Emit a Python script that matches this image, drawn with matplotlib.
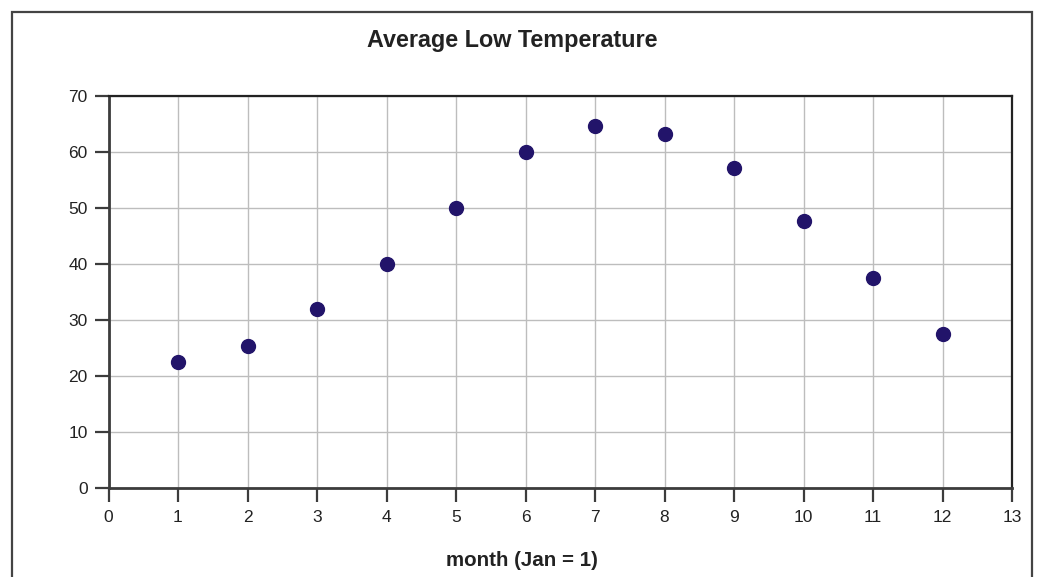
import matplotlib.pyplot as plt
from matplotlib.patches import Rectangle

plt.rcParams['font.family'] = ['Liberation Sans', 'DejaVu Sans']

months = [1, 2, 3, 4, 5, 6, 7, 8, 9, 10, 11, 12]
low_temps = [22.5, 25.3, 32.0, 40.0, 50.0, 60.0, 64.7, 63.3, 57.1, 47.6, 37.5, 27.5]
x_ticks = list(range(0, 14))
y_ticks = list(range(0, 80, 10))

W, H = 1044, 577
fig = plt.figure(figsize=(W / 100, H / 100), dpi=100)
ax = fig.add_axes([108.5 / W, 1 - 488 / H, (1012 - 108.5) / W, (488 - 96) / H])

ax.scatter(months, low_temps, s=100, color='#22146a', zorder=3, clip_on=False)

ax.set_xlim(0, 13)
ax.set_ylim(0, 70)
ax.set_xticks(x_ticks)
ax.set_yticks(y_ticks)
ax.grid(True, color='#bdbdbd', linewidth=1.0)
ax.set_axisbelow(True)

for side in ['left', 'bottom']:
    ax.spines[side].set_color('#3c3c3c')
    ax.spines[side].set_linewidth(2)
for side in ['top', 'right']:
    ax.spines[side].set_color('#222222')
    ax.spines[side].set_linewidth(1.6)

ax.tick_params(axis='both', direction='out', length=10, width=1.6,
               color='#3c3c3c', labelsize=12.5, labelcolor='#222222')
ax.tick_params(axis='x', pad=6)
ax.tick_params(axis='y', pad=5)

fig.text(512 / W, 1 - 40 / H, 'Average Low Temperature', ha='center', va='center',
         fontsize=16.8, fontweight='bold', color='#222222')
fig.text(522 / W, 1 - 560 / H, 'month (Jan = 1)', ha='center', va='center',
         fontsize=14.8, fontweight='bold', color='#222222')

# outer frame, open at the bottom edge
frame = Rectangle((12 / W, -0.05), (1032 - 12) / W, 1.05 - 12 / H,
                  transform=fig.transFigure, fill=False,
                  edgecolor='#444444', linewidth=1.6, clip_on=False)
fig.patches.append(frame)

fig.savefig('out.png', dpi=100)
